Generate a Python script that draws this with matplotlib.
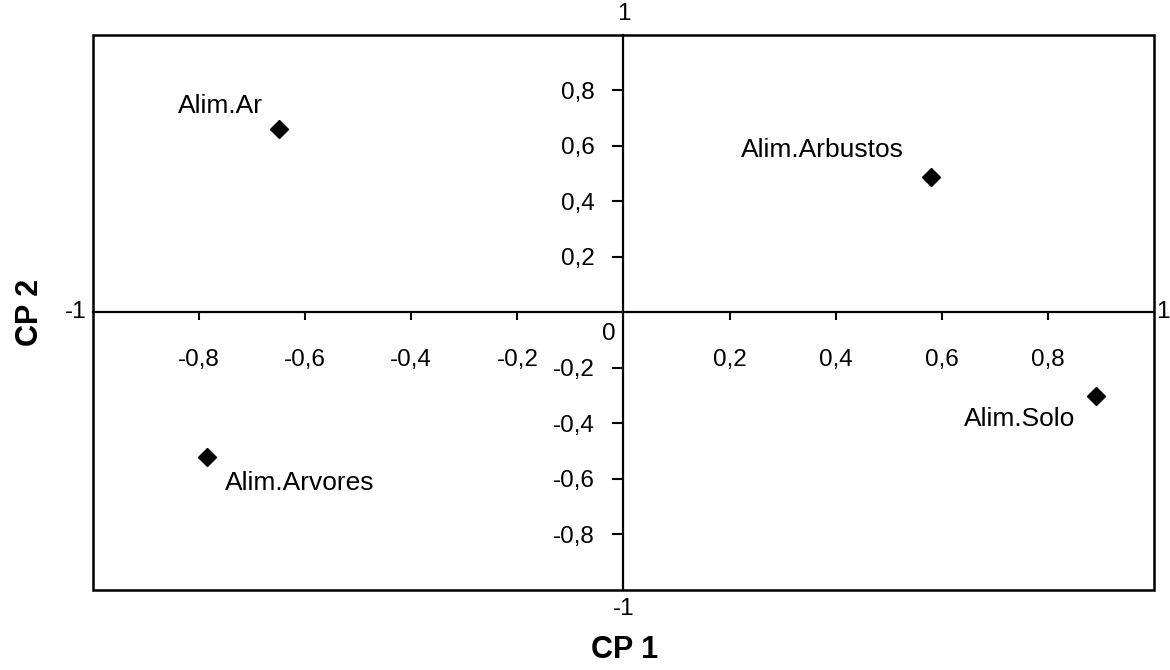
import matplotlib
matplotlib.use("Agg")
import matplotlib.pyplot as plt
from matplotlib.patches import Rectangle

plt.rcParams['font.family'] = ['Liberation Sans', 'DejaVu Sans']

# Data
categories = ["Alim.Ar", "Alim.Arbustos", "Alim.Solo", "Alim.Arvores"]
cp1 = [-0.65, 0.58, 0.89, -0.785]
cp2 = [0.66, 0.49, -0.30, -0.52]
x_ticks = [-0.8, -0.6, -0.4, -0.2, 0.2, 0.4, 0.6, 0.8]
y_ticks = [-0.8, -0.6, -0.4, -0.2, 0.2, 0.4, 0.6, 0.8]
x_label = "CP 1"
y_label = "CP 2"

# label offsets (pixels) and alignment
offsets = [(-16, 23, 'right'), (-27, 27, 'right'), (-20, -23, 'right'), (18, -26, 'left')]

fig = plt.figure(figsize=(11.7, 6.7), dpi=100)
ax = fig.add_axes([0.0795, 0.1194, 0.9068, 0.8284])
ax.set_xlim(-1, 1)
ax.set_ylim(-1, 1)

for s in ['top', 'right']:
    ax.spines[s].set_visible(False)
ax.spines['left'].set_position('zero')
ax.spines['bottom'].set_position('zero')
ax.spines['left'].set_linewidth(1.6)
ax.spines['bottom'].set_linewidth(1.6)

ax.add_patch(Rectangle((0, 0), 1, 1, transform=ax.transAxes, fill=False,
                       lw=1.8, ec='black', clip_on=False, zorder=3))

def fmt(v):
    return f"{v:.1f}".replace('.', ',')

TS = 17.5
ax.set_xticks(x_ticks)
ax.set_xticklabels([fmt(v) for v in x_ticks])
ax.set_yticks(y_ticks)
ax.set_yticklabels([fmt(v) for v in y_ticks])
ax.tick_params(axis='x', direction='out', length=6, width=1.5, pad=20, labelsize=TS)
ax.tick_params(axis='y', direction='out', length=8, width=1.5, pad=13, labelsize=TS)

# end labels
ax.text(-0.028, -0.079, "0", ha='center', va='center', fontsize=TS)
ax.text(0, 1.035, "1", ha='center', va='bottom', fontsize=TS, clip_on=False)
ax.text(0, -1.03, "-1", ha='center', va='top', fontsize=TS, clip_on=False)
ax.text(-1.013, 0, "-1", ha='right', va='center', fontsize=TS, clip_on=False)
ax.text(1.004, 0, "1", ha='left', va='center', fontsize=TS, clip_on=False)

ax.plot(cp1, cp2, linestyle='none', marker='D', markersize=9, color='black', zorder=4)
for name, x, y, (dx, dy, ha) in zip(categories, cp1, cp2, offsets):
    ax.annotate(name, (x, y), xytext=(dx, dy), textcoords='offset pixels',
                ha=ha, va='center', fontsize=19)

fig.text(0.534, 0.03, x_label, ha='center', va='center', fontsize=22, fontweight='bold')
fig.text(0.026, 0.533, y_label, ha='center', va='center', fontsize=22, fontweight='bold', rotation=90)

fig.savefig("out.png", dpi=100)
